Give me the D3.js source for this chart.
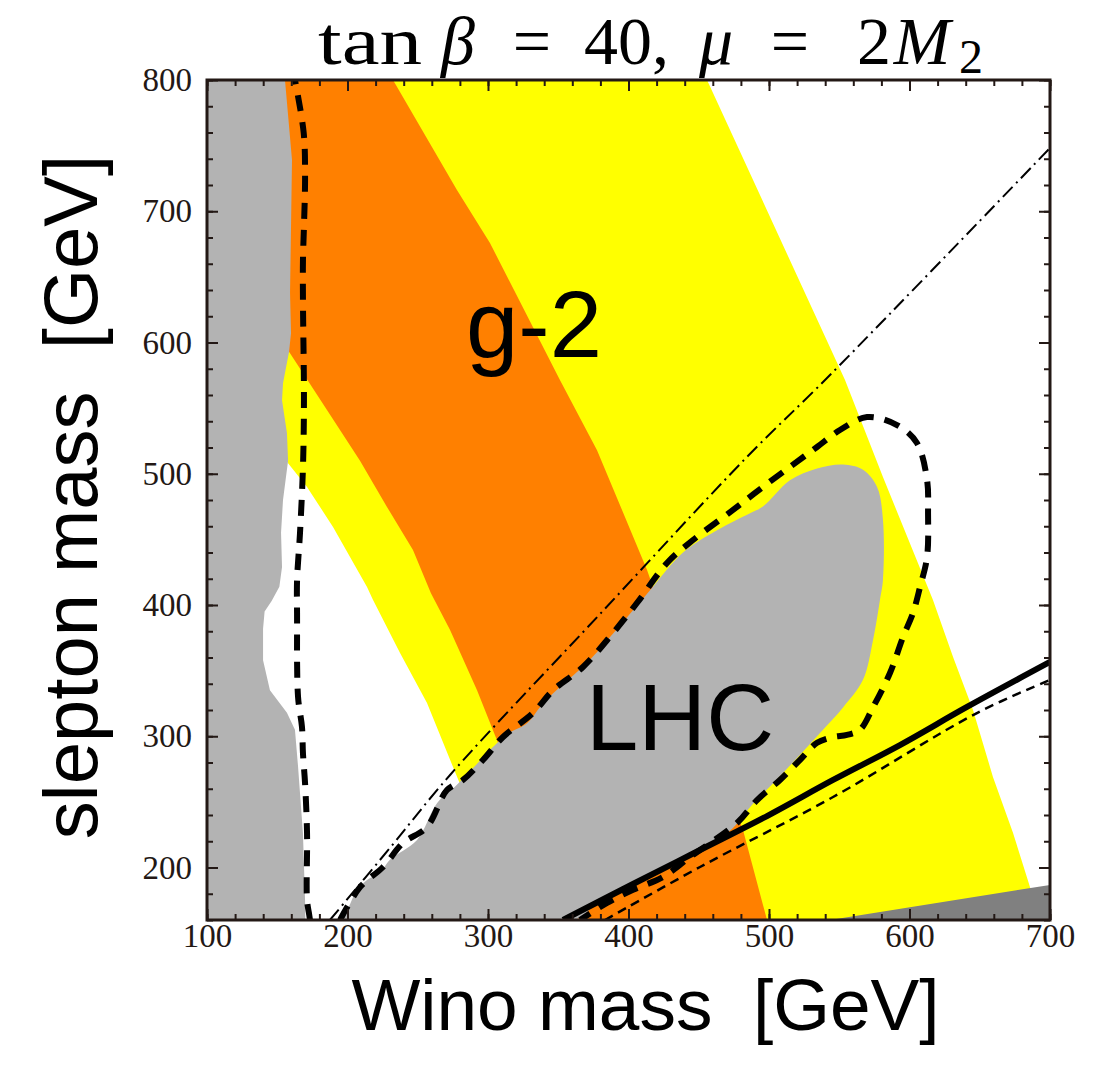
<!DOCTYPE html>
<html>
<head>
<meta charset="utf-8">
<script src="https://cdn.jsdelivr.net/npm/d3@7"></script>
<style>
  body { margin: 0; background: #fff; }
  svg { display: block; }
  .tick text { font-family: "Liberation Serif", "Times New Roman", serif; font-size: 33px; fill: #231815; }
  .tick line { stroke: #231815; stroke-width: 2; }
</style>
</head>
<body>
<div id="chart"></div>
<script>
// axis ticks
var xMajor = [100, 200, 300, 400, 500, 600, 700];
var yMajor = [200, 300, 400, 500, 600, 700, 800];
var xMinor = d3.range(100, 701, 20);
var yMinor = d3.range(160, 801, 20);

// regions, [wino mass, slepton mass] in GeV
var yellowBand = [[137.7,800],[141.3,594],[152,525.7],[157.7,508],[171.2,490],[189.7,459.4],[213.9,413.7],[218.1,404],[237.4,363.4],[256.6,325.3],[275.1,276.6],[290.7,236.2],[319.2,160],
  [692.9,160],[685.8,185],[673.7,226.3],[659.4,269],[645.2,320],[631,360.4],[616.7,403.8],[581.1,497.5],[554.1,571.4],[455.9,800]];
var orangeBand = [[144.8,800],[148.4,602],[158.4,593],[185.4,548.6],[208.9,510],[228.1,474.7],[246.6,442],[259.4,409],[273,381],[292.2,335],[306.4,297],[337,213],[354.8,160],
  [498.6,160],[481.5,228.6],[450.9,312.4],[413.2,426.7],[377.6,518],[351.2,571.4],[301.4,675.8],[277.9,716.2],[232.4,800]];
var leftGray = [[100,160],[100,800],[155.5,800],[160.5,739],[159.1,638],[159.8,607],[158.4,593],[154.1,569],[153.4,556],[156.9,531],[157.7,510],[154.1,480],[152.7,455],[153.4,429],
  [151.5,414],[146,403],[141,395],[139.9,382],[139.9,358],[144.8,335],[156.9,318],[162.6,305],[164.8,277],[168.3,226],[169.8,175],[170,160]];
var lhcRegion = [[194.7,160],[200.4,169],[206.8,183],[213.9,190.5],[223.1,196],[230.2,206],[249.5,221],[263.7,249],[277.9,263],[308.5,297],[315.7,303],[327.8,310],[339.1,325],
  [351.2,337.5],[370.5,356],[384.7,373],[403.2,396],[417.4,414],[438.8,440],[463,457],[486.5,470],[495.7,475],[514.9,495],[534.2,504],[552.7,507],[566.9,503],[576.9,490],
  [581.1,465],[581.1,419],[579,404],[574,373],[566.9,343],[552.7,322],[536.3,302.5],[510,272],[486.5,246],[472.2,228],[450.9,215],[415.3,195],[379.7,176],[362,160]];
var darkGray = [[543.4,160],[700,186.7],[700,160]];

// contour lines
var dashLeft = [[173.3,160],[172.6,165],[171.2,175],[171.2,226],[169.8,264],[168.3,287],[167.6,307],[164.8,330],[164.1,394],[164.1,419],[166.2,455],[168.3,505],[169,556],
  [168.3,632],[168.3,663],[169,688],[169.8,726],[168.8,760],[162.6,800]];
var dashLHC = [[194.7,160],[208.9,185],[225.3,200.4],[239.5,218.7],[256.6,230.9],[270.8,259],[282.2,266.7],[296.4,281.9],[310.7,299.4],[332,317.7],[346.3,335],[367.6,352.8],
  [389,378.7],[406,401.5],[427.4,432],[445.9,449.5],[474.4,472.4],[495.7,490],[517.1,507],[534.2,520.4],[550.5,533.3],[569.8,543.2],[591.1,537.1],[605.3,523.4],[612.5,495.2],
  [613.2,470.1],[612.5,436.6],[607.5,413.7],[602.5,394],[595.4,375.6],[586.1,348.2],[574,322],[564.8,305],[555.5,301],[545.6,299.4],[534.2,295],[522.1,282],[507.8,266.7],
  [491.5,251.4],[477.2,233.9],[443.8,208],[424.6,192.8],[403.2,183],[384.7,173],[365.5,160]];
var solidLine = [[353.4,160],[403.2,187.4],[450.9,213.3],[498.6,239.2],[545.6,266.7],[593.2,293.3],[640.9,322.3],[700,356.6]];
var thinDashed = [[383.3,160],[450.9,200.4],[545.6,253.7],[648,317.7],[700,342.9]];
var dashDot = [[187.5,160],[230.2,214.9],[273,270.5],[379.7,393.1],[484.3,512.8],[543.4,575.2],[700,748.2]];

var W = 1094, H = 1066;
var x = d3.scaleLinear().domain([100, 700]).range([207, 1050]);
var y = d3.scaleLinear().domain([160, 800]).range([920, 80]);

var svg = d3.select("#chart").append("svg")
    .attr("width", W)
    .attr("height", H);

svg.append("clipPath").attr("id", "plotclip")
    .append("rect")
    .attr("x", x(100)).attr("y", y(800))
    .attr("width", x(700) - x(100)).attr("height", y(160) - y(800));

var plot = svg.append("g").attr("clip-path", "url(#plotclip)");

var smooth = d3.line().x(function (d) { return x(d[0]); }).y(function (d) { return y(d[1]); })
    .curve(d3.curveCatmullRom.alpha(0.5));
var poly = d3.line().x(function (d) { return x(d[0]); }).y(function (d) { return y(d[1]); })
    .curve(d3.curveLinearClosed);
var blob = d3.line().x(function (d) { return x(d[0]); }).y(function (d) { return y(d[1]); })
    .curve(d3.curveCatmullRomClosed.alpha(0.5));

// filled regions, back to front
plot.append("path").attr("d", poly(yellowBand)).attr("fill", "#ffff00");
plot.append("path").attr("d", poly(orangeBand)).attr("fill", "#ff8000");
plot.append("path").attr("d", poly(leftGray)).attr("fill", "#b3b3b3");
plot.append("path").attr("d", blob(lhcRegion)).attr("fill", "#b3b3b3");
plot.append("path").attr("d", poly(darkGray)).attr("fill", "#808080");

// lines
plot.append("path").attr("d", smooth(dashDot))
    .attr("fill", "none").attr("stroke", "#000").attr("stroke-width", 2)
    .attr("stroke-dasharray", "14,5,2,5");
plot.append("path").attr("d", smooth(thinDashed))
    .attr("fill", "none").attr("stroke", "#000").attr("stroke-width", 2.5)
    .attr("stroke-dasharray", "9,6");
plot.append("path").attr("d", smooth(solidLine))
    .attr("fill", "none").attr("stroke", "#000").attr("stroke-width", 6);
plot.append("path").attr("d", smooth(dashLeft))
    .attr("fill", "none").attr("stroke", "#000").attr("stroke-width", 6)
    .attr("stroke-dasharray", "16,11");
plot.append("path").attr("d", smooth(dashLHC))
    .attr("fill", "none").attr("stroke", "#000").attr("stroke-width", 6)
    .attr("stroke-dasharray", "16,11");

// region labels
svg.append("text").attr("x", 534).attr("y", 357)
    .attr("text-anchor", "middle")
    .style("font-family", "'Liberation Sans', Arial, sans-serif")
    .style("font-size", "94px")
    .text("g-2");
svg.append("text").attr("x", 680).attr("y", 750)
    .attr("text-anchor", "middle")
    .style("font-family", "'Liberation Sans', Arial, sans-serif")
    .style("font-size", "94px")
    .text("LHC");

// axes: ticks inward on all four sides
function bare(axis, vals, size) {
    return axis.tickValues(vals).tickSize(-size).tickFormat("");
}
svg.append("g").attr("transform", "translate(0," + y(160) + ")")
    .call(bare(d3.axisBottom(x), xMinor, 6));
svg.append("g").attr("transform", "translate(0," + y(160) + ")")
    .call(d3.axisBottom(x).tickValues(xMajor).tickSize(-11).tickPadding(4).tickFormat(d3.format("d")));
svg.append("g").attr("transform", "translate(0," + y(800) + ")")
    .call(bare(d3.axisTop(x), xMinor, 6));
svg.append("g").attr("transform", "translate(0," + y(800) + ")")
    .call(bare(d3.axisTop(x), xMajor, 11));
svg.append("g").attr("transform", "translate(" + x(100) + ",0)")
    .call(bare(d3.axisLeft(y), yMinor, 6));
svg.append("g").attr("transform", "translate(" + x(100) + ",0)")
    .call(d3.axisLeft(y).tickValues(yMajor).tickSize(-11).tickPadding(15).tickFormat(d3.format("d")));
svg.append("g").attr("transform", "translate(" + x(700) + ",0)")
    .call(bare(d3.axisRight(y), yMinor, 6));
svg.append("g").attr("transform", "translate(" + x(700) + ",0)")
    .call(bare(d3.axisRight(y), yMajor, 11));
svg.selectAll(".domain").remove();

// frame
svg.append("rect")
    .attr("x", x(100)).attr("y", y(800))
    .attr("width", x(700) - x(100)).attr("height", y(160) - y(800))
    .attr("fill", "none").attr("stroke", "#231815").attr("stroke-width", 3);

// axis titles
svg.append("text")
    .attr("x", (x(100) + x(700)) / 2 + 17).attr("y", 1030)
    .attr("text-anchor", "middle")
    .style("font-family", "'Liberation Sans', Arial, sans-serif")
    .style("font-size", "73px")
    .style("white-space", "pre")
    .text("Wino mass  [GeV]");
svg.append("text")
    .attr("transform", "translate(97,497) rotate(-90)")
    .attr("text-anchor", "middle")
    .style("font-family", "'Liberation Sans', Arial, sans-serif")
    .style("font-size", "76px")
    .style("white-space", "pre")
    .text("slepton mass  [GeV]");

// title, laid out piece by piece like TeX math
var titleParts = [
    {t: "tan", x: 318, anchor: "start", len: 104},
    {t: "β", x: 458, it: true},
    {t: "=", x: 532},
    {t: "40,", x: 584, anchor: "start"},
    {t: "μ", x: 716, it: true},
    {t: "=", x: 790},
    {t: "2", x: 874},
    {t: "M", x: 922, it: true},
    {t: "2", x: 971, sub: true}
];
var tt = svg.append("g").selectAll("text").data(titleParts).enter().append("text")
    .attr("x", function (d) { return d.x; })
    .attr("y", function (d) { return d.sub ? 73 : 64; })
    .attr("text-anchor", function (d) { return d.anchor || "middle"; })
    .style("font-family", "'Liberation Serif', 'Times New Roman', serif")
    .style("font-style", function (d) { return d.it ? "italic" : "normal"; })
    .style("font-size", function (d) { return d.sub ? "48px" : "68px"; })
    .text(function (d) { return d.t; });
tt.filter(function (d) { return d.len; })
    .attr("textLength", function (d) { return d.len; })
    .attr("lengthAdjust", "spacingAndGlyphs");
</script>
</body>
</html>
